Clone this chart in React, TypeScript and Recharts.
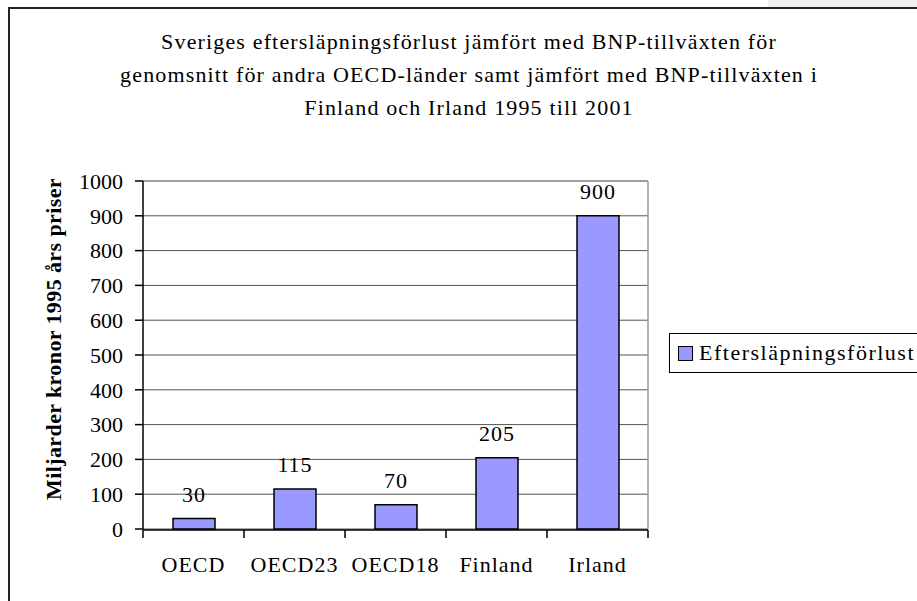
import React from 'react';
import { BarChart, Bar, XAxis, YAxis, CartesianGrid, LabelList, Legend, ReferenceLine } from 'recharts';

const categories = ['OECD', 'OECD23', 'OECD18', 'Finland', 'Irland'];
const values = [30, 115, 70, 205, 900];
const yTicks = [0, 100, 200, 300, 400, 500, 600, 700, 800, 900, 1000];
const boundaryTicks = [0, 1, 2, 3, 4, 5];
const seriesName = 'Eftersläpningsförlust';
const titleLines = [
  'Sveriges eftersläpningsförlust jämfört med BNP-tillväxten för',
  'genomsnitt för andra OECD-länder samt jämfört med BNP-tillväxten i',
  'Finland och Irland 1995 till 2001',
];
const yAxisTitle = 'Miljarder kronor 1995 års priser';

const data = categories.map((c, i) => ({ category: c, value: values[i], pos: i + 0.5 }));

const FONT = '"Liberation Serif", "Times New Roman", serif';
const BAR_FILL = '#9999FF';

const YTitle = (props: any) => {
  const vb = props.viewBox || {};
  const cx = vb.x - 30;
  const cy = vb.y + vb.height / 2 - 16;
  return (
    <text
      x={cx}
      y={cy}
      transform={`rotate(-90, ${cx}, ${cy})`}
      textAnchor="middle"
      dominantBaseline="central"
      fontFamily={FONT}
      fontWeight="bold"
      fontSize={22}
      letterSpacing={0.4}
      fill="#000"
    >
      {yAxisTitle}
    </text>
  );
};

const LegendBox = (props: any) => {
  const item = (props.payload && props.payload[0]) || { value: seriesName, color: BAR_FILL };
  return (
    <div
      style={{
        boxSizing: 'border-box',
        width: 270,
        height: 40,
        border: '1px solid #000',
        background: '#fff',
        display: 'flex',
        alignItems: 'center',
        paddingLeft: 8,
        fontFamily: FONT,
        fontSize: 22,
        letterSpacing: 1.5,
        color: '#000',
        whiteSpace: 'nowrap',
      }}
    >
      <span
        style={{
          display: 'inline-block',
          width: 13,
          height: 13,
          background: item.color || BAR_FILL,
          border: '1px solid #000',
          marginRight: 6,
        }}
      />
      <span>{item.value}</span>
    </div>
  );
};

export default function App() {
  return (
    <div style={{ position: 'fixed', left: 0, top: 0, width: 917, height: 601, overflow: 'hidden', background: '#fff' }}>
      <div style={{ position: 'absolute', left: 768, top: 0, width: 149, height: 7, background: '#efefef' }} />
      <div
        style={{
          position: 'absolute',
          left: 8,
          top: 7,
          width: 909,
          height: 594,
          boxSizing: 'border-box',
          borderTop: '2px solid #222',
          borderLeft: '2px solid #222',
        }}
      />
      <div
        style={{
          position: 'absolute',
          left: 19,
          top: 25,
          width: 900,
          textAlign: 'center',
          fontFamily: FONT,
          fontSize: 22,
          letterSpacing: 1.15,
          lineHeight: '33px',
          color: '#000',
          whiteSpace: 'nowrap',
        }}
      >
        {titleLines.map((l, i) => (
          <div key={i}>{l}</div>
        ))}
      </div>
      <div style={{ position: 'absolute', left: 0, top: 0 }}>
        <BarChart
          width={917}
          height={601}
          data={data}
          margin={{ top: 181, right: 269, bottom: 70, left: 83 }}
          barSize={42}
        >
          <CartesianGrid vertical={false} stroke="#555" strokeWidth={1} />
          <XAxis
            xAxisId="bounds"
            dataKey="pos"
            type="number"
            domain={[0, 5]}
            ticks={boundaryTicks}
            allowDataOverflow
            height={1}
            tick={{ fontSize: 1, fill: 'none' }}
            tickFormatter={() => ''}
            tickSize={8}
            axisLine={{ stroke: '#000', strokeWidth: 1.5 }}
            tickLine={{ stroke: '#000', strokeWidth: 1.5 }}
          />
          <XAxis
            dataKey="category"
            type="category"
            height={1}
            axisLine={false}
            tickLine={false}
            tickSize={8}
            tickMargin={19}
            interval={0}
            tick={{ fontFamily: FONT, fontSize: 22, fill: '#000', letterSpacing: 1 }}
          />
          <YAxis
            width={60}
            domain={[0, 1000]}
            ticks={yTicks}
            interval={0}
            tickSize={8}
            tickMargin={12}
            axisLine={{ stroke: '#000', strokeWidth: 1.5 }}
            tickLine={{ stroke: '#000', strokeWidth: 1.5 }}
            tick={{ fontFamily: FONT, fontSize: 22, fill: '#000' }}
            label={<YTitle />}
          />
          <ReferenceLine y={1000} stroke="#999" strokeWidth={1.5} />
          <ReferenceLine x={5} xAxisId="bounds" stroke="#999" strokeWidth={1.5} />
          <Legend
            layout="vertical"
            align="center"
            verticalAlign="middle"
            wrapperStyle={{ left: 669, top: 333, width: 270, height: 40 }}
            content={<LegendBox />}
          />
          <Bar
            dataKey="value"
            name={seriesName}
            fill={BAR_FILL}
            stroke="#000"
            strokeWidth={1.5}
            isAnimationActive={false}
          >
            <LabelList
              dataKey="value"
              position="top"
              offset={17}
              style={{ fontFamily: FONT, fontSize: 22, fill: '#000', letterSpacing: 1 }}
            />
          </Bar>
        </BarChart>
      </div>
    </div>
  );
}
